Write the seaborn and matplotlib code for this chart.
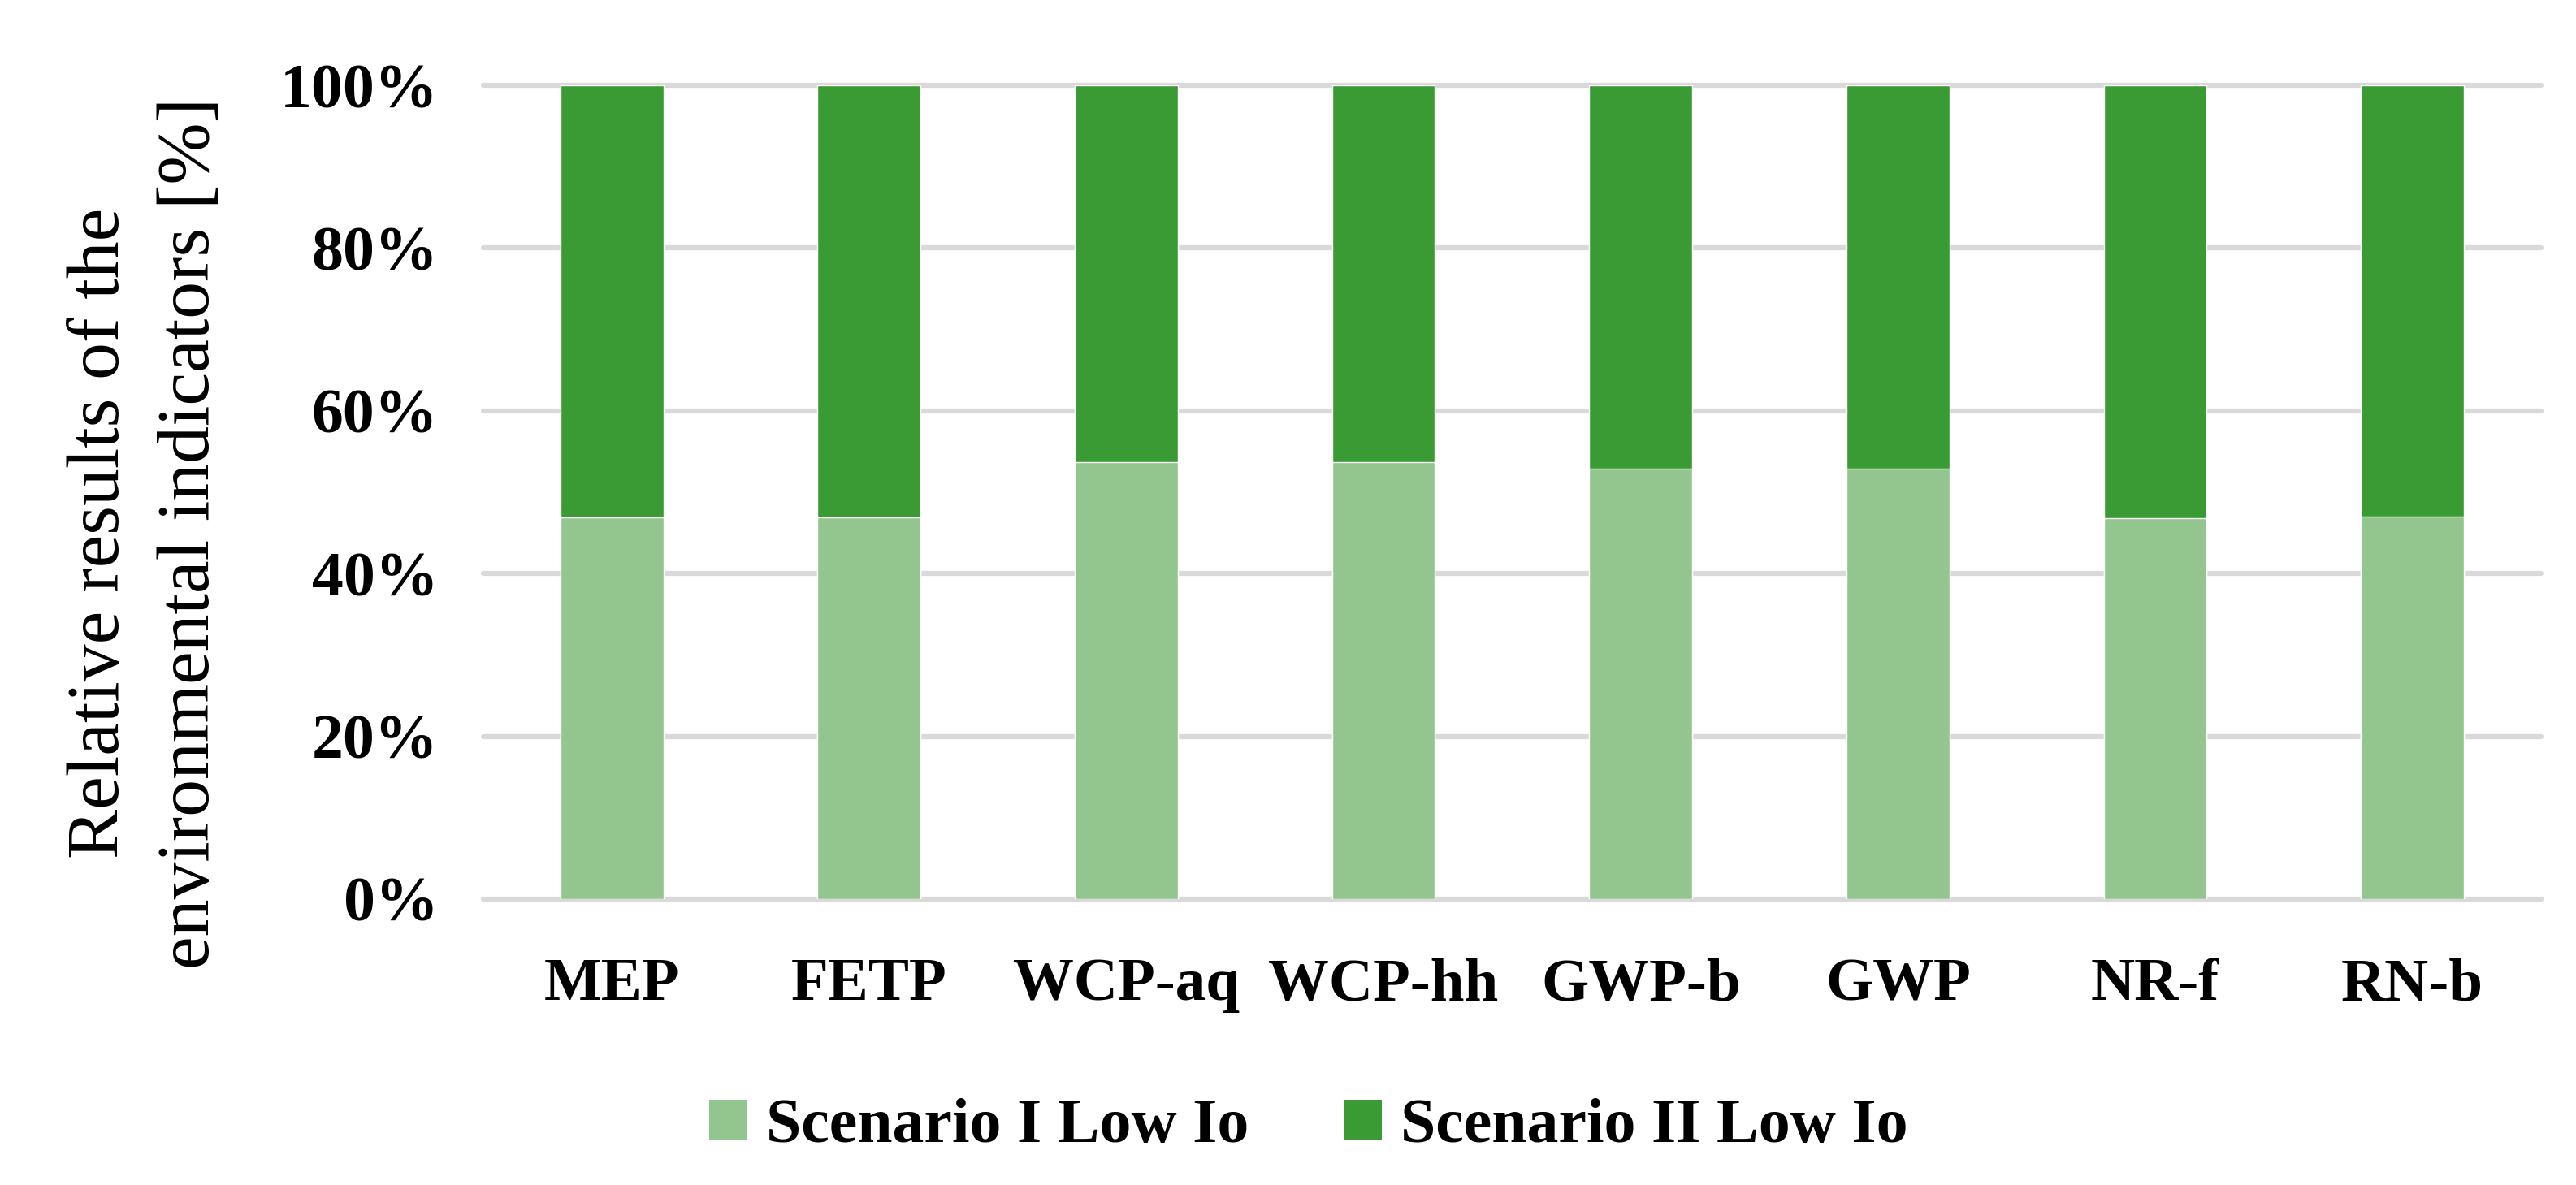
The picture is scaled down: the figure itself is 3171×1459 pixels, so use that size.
import matplotlib
matplotlib.use("Agg")
import matplotlib.pyplot as plt
import seaborn as sns
import numpy as np
from matplotlib.patches import Patch
from matplotlib.ticker import PercentFormatter

categories = ["MEP", "FETP", "WCP-aq", "WCP-hh", "GWP-b", "GWP", "NR-f", "RN-b"]
scenario_1 = [46.9, 46.9, 53.7, 53.7, 52.9, 52.9, 46.8, 47.0]
scenario_2 = [53.1, 53.1, 46.3, 46.3, 47.1, 47.1, 53.2, 53.0]
series_names = ["Scenario I Low Io", "Scenario II Low Io"]
y_ticks = [0, 20, 40, 60, 80, 100]
y_label = "Relative results of the\nenvironmental indicators [%]"

light = "#93C58F"
dark = "#3A9A33"

sns.set_theme(style="white")
plt.rcParams["font.family"] = ["Liberation Serif", "DejaVu Serif"]
plt.rcParams["text.color"] = "black"
plt.rcParams["xtick.color"] = "black"
plt.rcParams["ytick.color"] = "black"

fig = plt.figure(figsize=(31.71, 14.59), dpi=100)
ax = fig.add_axes([0.1876, 0.2413, 0.9864 - 0.1876, 0.928 - 0.2413])

totals = np.array(scenario_1) + np.array(scenario_2)
sns.barplot(x=categories, y=totals, color=dark, width=0.4, ax=ax,
            saturation=1, zorder=3)
sns.barplot(x=categories, y=scenario_1, color=light, width=0.4, ax=ax,
            saturation=1, zorder=4)

ax.set_xlim(-0.5, len(categories) - 0.5)
ax.set_ylim(0, 100)
ax.set_yticks(y_ticks)
ax.yaxis.set_major_formatter(PercentFormatter(decimals=0))
for t in y_ticks:
    ax.axhline(t, color="#D9D9D9", lw=4.5, zorder=1, clip_on=False)
for s in ax.spines.values():
    s.set_visible(False)
ax.tick_params(axis="y", length=0, pad=40, labelsize=56, labelcolor="black")
ax.tick_params(axis="x", length=0, pad=52, labelsize=54, labelcolor="black")
for lab in ax.get_xticklabels() + ax.get_yticklabels():
    lab.set_fontweight("bold")
ax.set_xlabel("")
ax.set_ylabel("")

fig.text(0.0565, 0.55, y_label, rotation=90, ha="center", va="center",
         multialignment="center", fontsize=66, linespacing=1.45, color="black")

handles = [Patch(facecolor=light, edgecolor="none"),
           Patch(facecolor=dark, edgecolor="none")]
fig.legend(handles, series_names, loc="center", bbox_to_anchor=(0.508, 0.049),
           ncol=2, frameon=False, prop={"size": 56, "weight": "bold"},
           handlelength=0.6, handleheight=0.6, handletextpad=0.3,
           columnspacing=1.5, labelcolor="black")

fig.savefig("out.png", dpi=100)
